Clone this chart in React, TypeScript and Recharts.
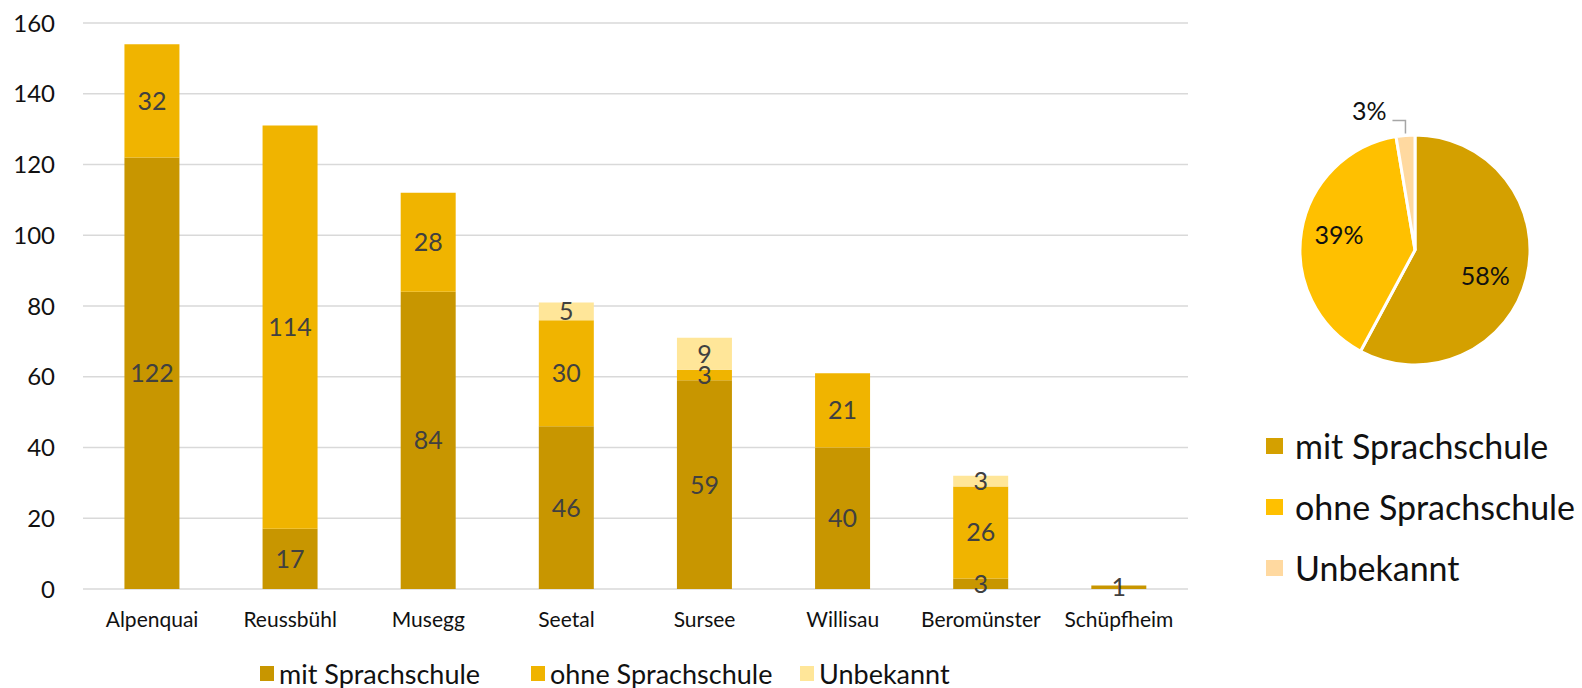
import {
  BarChart,
  Bar,
  XAxis,
  YAxis,
  CartesianGrid,
  LabelList,
  Legend,
  PieChart,
  Pie,
  Cell,
} from 'recharts'

const categories = ['Alpenquai', 'Reussbühl', 'Musegg', 'Seetal', 'Sursee', 'Willisau', 'Beromünster', 'Schüpfheim']
const mitSprachschule = [122, 17, 84, 46, 59, 40, 3, 1]
const ohneSprachschule = [32, 114, 28, 30, 3, 21, 26, 0]
const unbekannt = [0, 0, 0, 5, 9, 0, 3, 0]
const yTicks = [0, 20, 40, 60, 80, 100, 120, 140, 160]

const seriesNames = ['mit Sprachschule', 'ohne Sprachschule', 'Unbekannt']
const barColors = ['#C89600', '#F0B400', '#FFE699']

const pieValues = [372, 254, 17]
const pieLabels = ['58%', '39%', '3%']
const pieColors = ['#D4A000', '#FFC000', '#FFD9A0']

const FONT = 'Lato, "Open Sans", sans-serif'
const RADIAN = Math.PI / 180

const barData = categories.map((name, i) => ({
  name,
  mit: mitSprachschule[i],
  ohne: ohneSprachschule[i],
  unb: unbekannt[i],
}))

const pieData = seriesNames.map((name, i) => ({ name, value: pieValues[i] }))

const hideZero = (v: any) => (v ? v : '')

// left edge of each legend swatch, in px
const legendX = [260, 531, 800]

function BarLegend() {
  return (
    <div style={{ position: 'relative', height: 40, fontSize: 27, color: '#111' }}>
      {seriesNames.map((n, i) => (
        <div
          key={n}
          style={{ position: 'absolute', left: legendX[i], top: 5, height: 40, display: 'flex', alignItems: 'center', whiteSpace: 'nowrap' }}
        >
          <span style={{ width: 14, height: 15, background: barColors[i], marginRight: 5, display: 'inline-block' }} />
          {n}
        </div>
      ))}
    </div>
  )
}

function PieLegend() {
  return (
    <div style={{ fontSize: 34, color: '#111' }}>
      {seriesNames.map((n, i) => (
        <div key={n} style={{ display: 'flex', alignItems: 'center', height: 61, whiteSpace: 'nowrap' }}>
          <span style={{ width: 17, height: 16, background: pieColors[i], marginRight: 12, display: 'inline-block' }} />
          {n}
        </div>
      ))}
    </div>
  )
}

function PieLabel(props: any) {
  const { cx, cy, midAngle, outerRadius, index } = props
  if (index === 2) {
    const sx = cx + outerRadius * Math.cos(-midAngle * RADIAN)
    const sy = cy + outerRadius * Math.sin(-midAngle * RADIAN)
    return (
      <g>
        <polyline
          points={`${sx},${sy - 2} ${sx},${sy - 15} ${sx - 13},${sy - 15}`}
          fill="none"
          stroke="#A6A6A6"
          strokeWidth={1.5}
        />
        <text x={sx - 19} y={sy - 22} textAnchor="end" dominantBaseline="middle" fontSize={25} fill="#111">
          {pieLabels[index]}
        </text>
      </g>
    )
  }
  const nudge = index === 0 ? -8 : 0
  const r = outerRadius * (index === 0 ? 0.66 : 0.67)
  const a = (midAngle + nudge) * RADIAN
  const x = cx + r * Math.cos(-a)
  const y = cy + r * Math.sin(-a)
  return (
    <text x={x} y={y} textAnchor="middle" dominantBaseline="middle" fontSize={25} fill="#111">
      {pieLabels[index]}
    </text>
  )
}

export default function App() {
  return (
    <div style={{ position: 'absolute', left: 0, top: 0, width: 1582, height: 688, background: '#fff', fontFamily: FONT }}>
      <div style={{ position: 'absolute', left: 0, top: 0 }}>
        <BarChart
          width={1208}
          height={688}
          data={barData}
          margin={{ top: 23, right: 20, left: 0, bottom: 0 }}
          barCategoryGap="30%"
        >
          <CartesianGrid vertical={false} stroke="#D9D9D9" strokeWidth={1.5} />
          <XAxis
            dataKey="name"
            height={59}
            axisLine={false}
            tickLine={false}
            tickSize={0}
            tickMargin={23}
            interval={0}
            tick={{ fill: '#111', fontSize: 21 }}
          />
          <YAxis
            width={83}
            domain={[0, 160]}
            ticks={yTicks}
            axisLine={false}
            tickLine={false}
            tickSize={0}
            tickMargin={28}
            tick={{ fill: '#111', fontSize: 24 }}
          />
          <Legend verticalAlign="bottom" wrapperStyle={{ left: 0, width: 1208 }} content={<BarLegend />} />
          <Bar dataKey="mit" name={seriesNames[0]} stackId="a" fill={barColors[0]} isAnimationActive={false}>
            <LabelList dataKey="mit" position="center" fill="#404040" fontSize={25} formatter={hideZero} />
          </Bar>
          <Bar dataKey="ohne" name={seriesNames[1]} stackId="a" fill={barColors[1]} isAnimationActive={false}>
            <LabelList dataKey="ohne" position="center" fill="#404040" fontSize={25} formatter={hideZero} />
          </Bar>
          <Bar dataKey="unb" name={seriesNames[2]} stackId="a" fill={barColors[2]} isAnimationActive={false}>
            <LabelList dataKey="unb" position="center" fill="#404040" fontSize={25} formatter={hideZero} />
          </Bar>
        </BarChart>
      </div>
      <div style={{ position: 'absolute', left: 1230, top: 0 }}>
        <PieChart width={352} height={688} margin={{ top: 0, right: 0, left: 0, bottom: 0 }}>
          <Pie
            data={pieData}
            dataKey="value"
            cx={185}
            cy={250}
            outerRadius={115}
            startAngle={90}
            endAngle={-270}
            stroke="#fff"
            strokeWidth={3}
            label={PieLabel}
            labelLine={false}
            isAnimationActive={false}
          >
            {pieData.map((d, i) => (
              <Cell key={d.name} fill={pieColors[i]} />
            ))}
          </Pie>
          <Legend
            verticalAlign="bottom"
            wrapperStyle={{ left: 36, top: 415, width: 316, bottom: 'auto' }}
            content={<PieLegend />}
          />
        </PieChart>
      </div>
    </div>
  )
}
